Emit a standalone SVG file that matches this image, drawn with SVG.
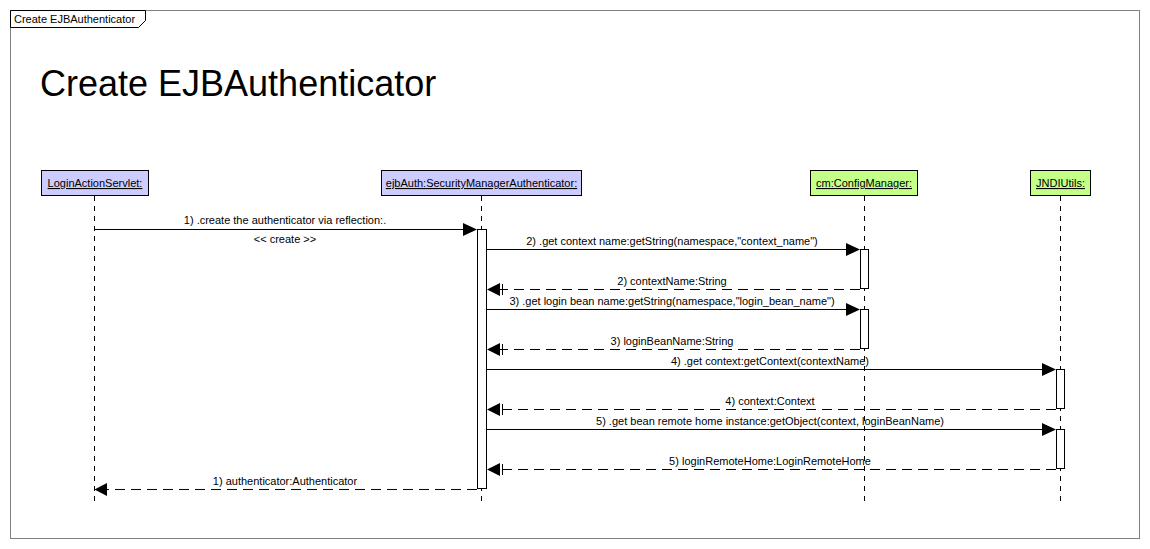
<svg xmlns="http://www.w3.org/2000/svg" width="1150" height="549" viewBox="0 0 1150 549">
<defs>
<style>
text{font-family:"Liberation Sans",Arial,sans-serif;fill:#000}
.lbl{font-size:11px;text-anchor:middle}
.node{font-size:11px;text-anchor:middle;text-decoration:underline}
.blue{fill:#ccccff;stroke:#000;stroke-width:1}
.green{fill:#c4ff88;stroke:#000;stroke-width:1}
.life{stroke:#000;stroke-width:1;stroke-dasharray:5,5;fill:none}
.act{fill:#fff;stroke:#000;stroke-width:1}
.call{stroke:#000;stroke-width:1;fill:none}
.ret{stroke:#000;stroke-width:1;stroke-dasharray:10,6;fill:none}
.head{fill:#000;stroke:none}
</style>
</defs>
<rect x="0" y="0" width="1150" height="549" fill="#fff"/>
<rect x="10.5" y="10.5" width="1129" height="528" fill="#fff" stroke="#808080" stroke-width="1"/>
<path d="M10.5 10.5 H145.5 V20.5 L138.5 27.5 H10.5 Z" fill="#fff" stroke="#000" stroke-width="1"/>
<text x="14" y="23" style="font-size:11px">Create EJBAuthenticator</text>
<text x="40" y="96" style="font-size:36px">Create EJBAuthenticator</text>

<g id="lifelines">
<line class="life" x1="94.5" y1="196" x2="94.5" y2="503"/>
<line class="life" x1="481.5" y1="196" x2="481.5" y2="503"/>
<line class="life" x1="864.5" y1="196" x2="864.5" y2="503"/>
<line class="life" x1="1060.5" y1="196" x2="1060.5" y2="503"/>
</g>

<g id="n-login">
<rect class="blue" x="41.5" y="170.5" width="107" height="25"/>
<text class="node" x="95" y="187">LoginActionServlet:</text>
</g>
<g id="n-ejbauth">
<rect class="blue" x="381.5" y="170.5" width="200" height="25"/>
<text class="node" x="481.5" y="187">ejbAuth:SecurityManagerAuthenticator:</text>
</g>
<g id="n-cm">
<rect class="green" x="810.5" y="170.5" width="107" height="25"/>
<text class="node" x="864" y="187">cm:ConfigManager:</text>
</g>
<g id="n-jndi">
<rect class="green" x="1030.5" y="170.5" width="60" height="25"/>
<text class="node" x="1060.5" y="187">JNDIUtils:</text>
</g>

<g id="activations">
<rect class="act" x="477.5" y="229.5" width="9" height="259"/>
<rect class="act" x="860.5" y="249.5" width="8" height="39"/>
<rect class="act" x="860.5" y="309.5" width="8" height="39"/>
<rect class="act" x="1056.5" y="369.5" width="8" height="39"/>
<rect class="act" x="1056.5" y="429.5" width="8" height="39"/>
</g>

<g id="connectors">
<line class="call" x1="94.5" y1="229.5" x2="465" y2="229.5"/>
<polygon class="head" points="477,229.5 463,223 463,236"/>
<text class="lbl" x="285" y="224">1) .create the authenticator via reflection:.</text>
<text class="lbl" x="285" y="243">&lt;&lt; create &gt;&gt;</text>

<line class="call" x1="486.5" y1="249.5" x2="848" y2="249.5"/>
<polygon class="head" points="860,249.5 846,243 846,256"/>
<text class="lbl" x="672" y="245">2) .get context name:getString(namespace,"context_name")</text>

<line class="ret" x1="860" y1="289.5" x2="500" y2="289.5"/>
<polygon class="head" points="487,289.5 500,283 500,296"/>
<line class="call" x1="502.5" y1="284" x2="502.5" y2="295"/>
<text class="lbl" x="672" y="285">2) contextName:String</text>

<line class="call" x1="486.5" y1="309.5" x2="848" y2="309.5"/>
<polygon class="head" points="860,309.5 846,303 846,316"/>
<text class="lbl" x="672" y="305">3) .get login bean name:getString(namespace,"login_bean_name")</text>

<line class="ret" x1="860" y1="349.5" x2="500" y2="349.5"/>
<polygon class="head" points="487,349.5 500,343 500,356"/>
<line class="call" x1="502.5" y1="344" x2="502.5" y2="355"/>
<text class="lbl" x="672" y="345">3) loginBeanName:String</text>

<line class="call" x1="486.5" y1="369.5" x2="1044" y2="369.5"/>
<polygon class="head" points="1056,369.5 1042,363 1042,376"/>
<text class="lbl" x="770" y="365">4) .get context:getContext(contextName)</text>

<line class="ret" x1="1056" y1="409.5" x2="500" y2="409.5"/>
<polygon class="head" points="487,409.5 500,403 500,416"/>
<line class="call" x1="502.5" y1="404" x2="502.5" y2="415"/>
<text class="lbl" x="770" y="405">4) context:Context</text>

<line class="call" x1="486.5" y1="429.5" x2="1044" y2="429.5"/>
<polygon class="head" points="1056,429.5 1042,423 1042,436"/>
<text class="lbl" x="770" y="425">5) .get bean remote home instance:getObject(context, loginBeanName)</text>

<line class="ret" x1="1056" y1="469.5" x2="500" y2="469.5"/>
<polygon class="head" points="487,469.5 500,463 500,476"/>
<line class="call" x1="502.5" y1="464" x2="502.5" y2="475"/>
<text class="lbl" x="770" y="465">5) loginRemoteHome:LoginRemoteHome</text>

<line class="ret" x1="477" y1="489.5" x2="107" y2="489.5"/>
<polygon class="head" points="94.5,489.5 107,483 107,496"/>
<text class="lbl" x="285" y="485">1) authenticator:Authenticator</text>
</g>
</svg>
